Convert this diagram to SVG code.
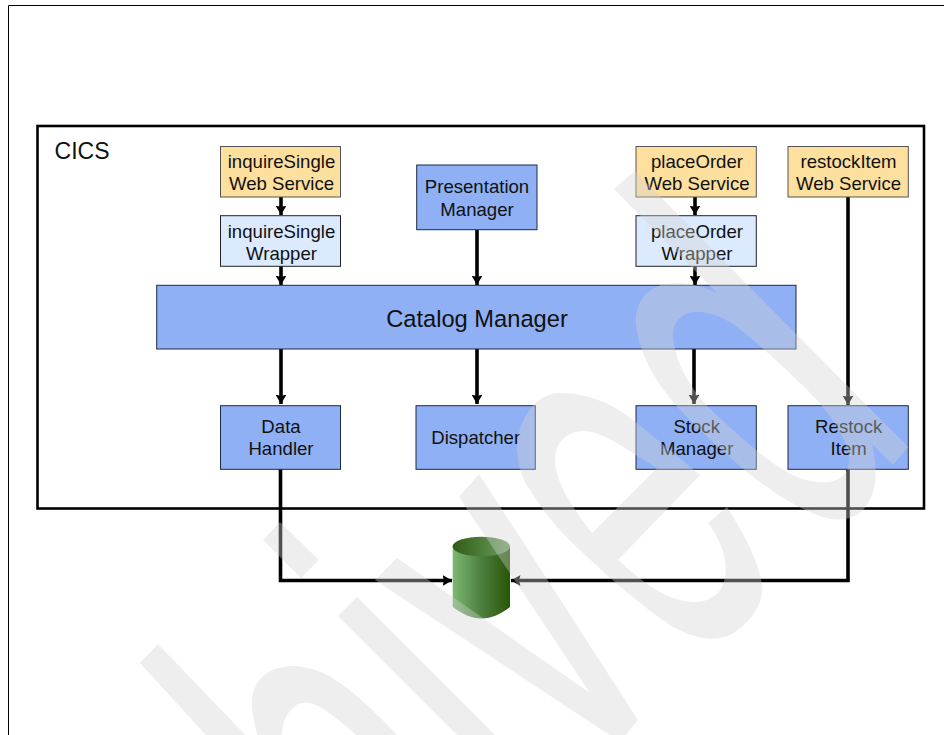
<svg xmlns="http://www.w3.org/2000/svg" width="944" height="735" viewBox="0 0 944 735">
<style>
.t{font-family:"Liberation Sans",Arial,sans-serif;font-size:18.6px;fill:#111;text-anchor:middle}
.big{font-size:23.7px}
.b{fill:#8fb0f5;stroke:#1f2a44;stroke-width:1}
.o{fill:#fddf9e;stroke:#555;stroke-width:1}
.w{fill:#dbeaff;stroke:#222;stroke-width:1}
.c{fill:none;stroke:#000;stroke-width:3.6;stroke-linejoin:miter}
.wm{fill:#d2d2d2;fill-opacity:.38;fill-rule:evenodd}
</style>
<defs>
<marker id="a" markerUnits="userSpaceOnUse" markerWidth="12" markerHeight="12" refX="9.500" refY="6" orient="auto"><path d="M0 0.500L9.500 6L0 11.500L1.500 6Z" fill="#000"/></marker>
<linearGradient id="gb" x1="0" x2="1" y1="0" y2="0"><stop offset="0" stop-color="#7db872"/><stop offset=".5" stop-color="#4c7f3e"/><stop offset="1" stop-color="#2a5508"/></linearGradient>
<linearGradient id="gt" x1="0" x2="1" y1="0" y2="0"><stop offset="0" stop-color="#2f5c14"/><stop offset="1" stop-color="#6e9f62"/></linearGradient>
</defs>
<rect width="944" height="735" fill="#fff"/>
<path d="M8.500 735V5.500H944" fill="none" stroke="#000" stroke-width="1"/>
<g id="cics"><rect x="37.500" y="126" width="886.500" height="382.500" fill="#fff" stroke="#000" stroke-width="2.600"/><text class="t big" x="82" y="158.700" style="font-size:23px">CICS</text></g>
<g id="connectors">
<path class="c" d="M281 197V215" marker-end="url(#a)"/>
<path class="c" d="M281 266V285" marker-end="url(#a)"/>
<path class="c" d="M477 230V285" marker-end="url(#a)"/>
<path class="c" d="M695 197V215" marker-end="url(#a)"/>
<path class="c" d="M695 266V285" marker-end="url(#a)"/>
<path class="c" d="M281 349V404" marker-end="url(#a)"/>
<path class="c" d="M477 349V404" marker-end="url(#a)"/>
<path class="c" d="M694 349V404" marker-end="url(#a)"/>
<path class="c" d="M848 197V405" marker-end="url(#a)"/>
<path class="c" d="M280.500 469V580.500H452" marker-end="url(#a)"/>
<path class="c" d="M848 469V580.500H511" marker-end="url(#a)"/>
</g>
<g id="inquireSingleWS"><rect class="o" x="220.500" y="146.500" width="120" height="50.500"/><text class="t" x="281.500" y="167.700">inquireSingle</text><text class="t" x="281.500" y="190">Web Service</text></g>
<g id="inquireSingleWrapper"><rect class="w" x="220.500" y="215.700" width="120" height="50.600"/><text class="t" x="281.500" y="237.700">inquireSingle</text><text class="t" x="281.500" y="260">Wrapper</text></g>
<g id="presentationManager"><rect class="b" x="416.700" y="165" width="120.300" height="64.700"/><text class="t" x="477" y="193.300">Presentation</text><text class="t" x="477" y="216">Manager</text></g>
<g id="placeOrderWS"><rect class="o" x="636" y="146.500" width="120.300" height="50.500"/><text class="t" x="697" y="167.700">placeOrder</text><text class="t" x="697" y="190">Web Service</text></g>
<g id="placeOrderWrapper"><rect class="w" x="636" y="215.700" width="120.300" height="50.600"/><text class="t" x="697" y="237.700">placeOrder</text><text class="t" x="697" y="260">Wrapper</text></g>
<g id="restockItemWS"><rect class="o" x="788" y="146.500" width="120.300" height="50.500"/><text class="t" x="848.500" y="167.700">restockItem</text><text class="t" x="848.500" y="190">Web Service</text></g>
<g id="catalogManager"><rect class="b" x="156.700" y="285.300" width="639.300" height="63.700"/><text class="t big" x="477" y="326.700">Catalog Manager</text></g>
<g id="dataHandler"><rect class="b" x="220.500" y="405.700" width="120" height="63.600"/><text class="t" x="281" y="432.700">Data</text><text class="t" x="281" y="455">Handler</text></g>
<g id="dispatcher"><rect class="b" x="416" y="405.700" width="119.300" height="63.600"/><text class="t" x="475.700" y="444">Dispatcher</text></g>
<g id="stockManager"><rect class="b" x="636" y="405.700" width="120.300" height="63.600"/><text class="t" x="696.700" y="432.700">Stock</text><text class="t" x="696.700" y="455">Manager</text></g>
<g id="restockItem"><rect class="b" x="788" y="405.700" width="120.300" height="63.600"/><text class="t" x="848.700" y="432.700">Restock</text><text class="t" x="848.700" y="455">Item</text></g>
<g id="database">
<path d="M452.700 546.500V607C462 614 472 618.500 481.500 618.500C491 618.500 501 614 510 607V546.500Z" fill="url(#gb)"/>
<ellipse cx="481.300" cy="546.500" rx="28.700" ry="9.800" fill="url(#gt)"/>
</g>
<g id="watermark" class="wm">
<path d="M614 189L635 171L908 447L893 465L872 444C878 470 878 495 862 511C850 522 830 522 810 512C775 497 735 465 690 420C655 385 640 355 636 325C634 305 645 288 665 284C683 281 700 285 717 293ZM673 337C672 325 680 313 695 312C710 311 725 318 737 327C760 345 780 364 800 383C815 397 828 412 837 427C848 445 853 460 846 472C838 484 820 485 800 478C775 469 740 437 707 406C688 385 675 360 673 337Z"/>
<path d="M700 475L637 423C615 405 590 393 560 393C535 393 518 420 517 447C518 465 522 480 530 490C545 515 565 537 583 553C610 578 640 605 670 625C690 637 715 645 735 632C755 618 764 600 762 585C760 565 745 535 727 507L708 523C725 545 730 570 722 587C715 600 700 605 680 600C660 596 638 578 618 560ZM592 533C570 505 555 480 555 460C555 443 567 431 583 431C600 431 620 445 636 455L657 468Z"/>
<path d="M459 497L590 693L397 558L375 580L620 742L638 720L479 474Z"/>
<path d="M338 616L357 597L507 747L470 748Z"/>
<path d="M263 540L280 522L319 560L301 578Z"/>
<path d="M140 663L158 644L255 745L215 745Z"/>
<path d="M258 738C252 715 250 700 254 690C260 672 278 666 293 666C310 667 325 672 340 683C360 697 380 717 400 738L360 738C345 725 330 713 322 708C312 702 300 700 293 708C285 715 282 725 282 738Z"/>
</g>
</svg>
